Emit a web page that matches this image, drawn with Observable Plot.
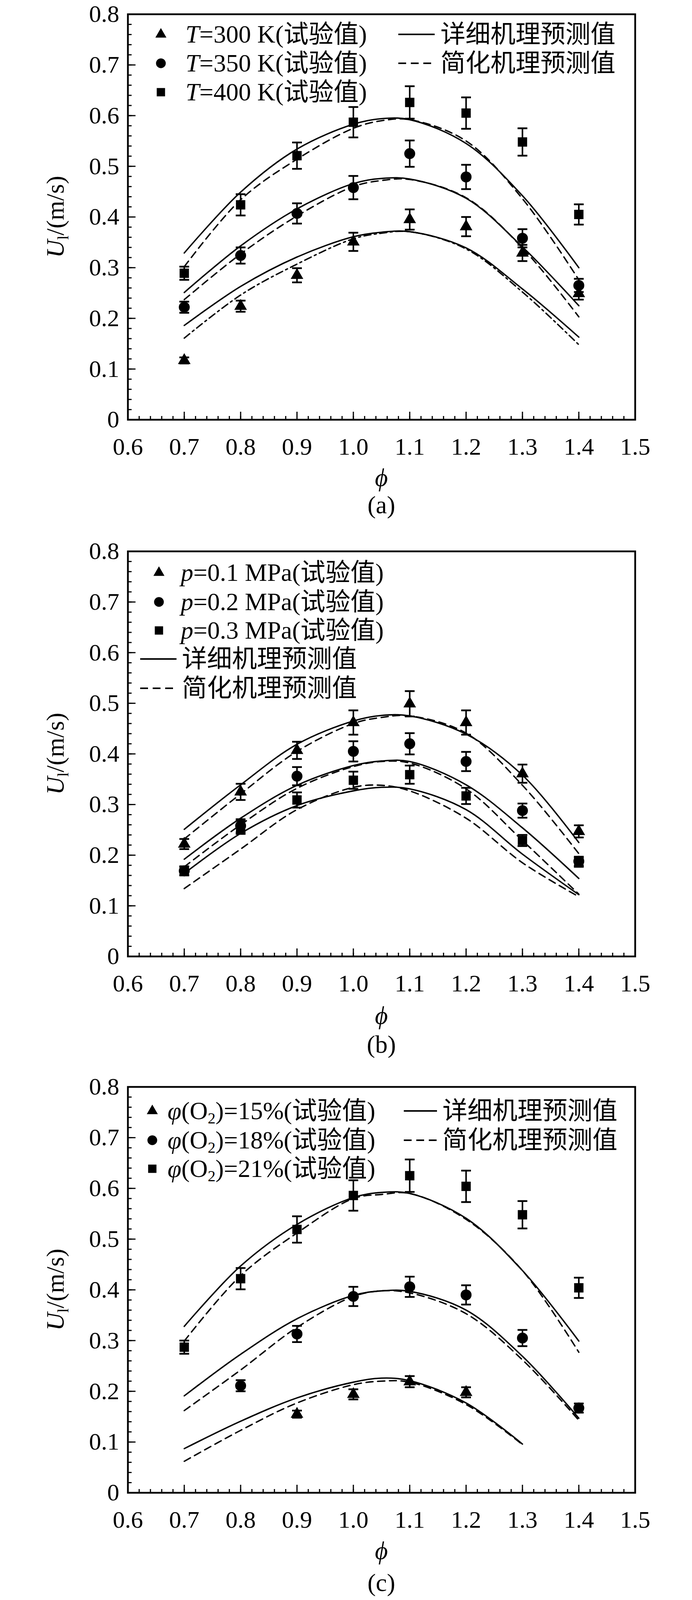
<!DOCTYPE html>
<html><head><meta charset="utf-8">
<script src="https://cdn.jsdelivr.net/npm/d3@7"></script>
<script src="https://cdn.jsdelivr.net/npm/@observablehq/plot@0.6"></script>
<style>
body{margin:0;background:#fff;}
#page{position:relative;width:1772px;height:6892px;background:#fff;overflow:hidden;font-family:'Liberation Serif','Times New Roman','Noto Sans CJK SC',serif;color:#000;}
#page svg{position:absolute;left:0;overflow:visible;}
.lg{position:absolute;white-space:nowrap;font-size:64px;line-height:1;transform:translateY(-50%);}
.lg sub{font-size:0.62em;vertical-align:-0.28em;line-height:0;}
.cap{position:absolute;font-size:64px;line-height:1;transform:translate(-50%,-50%);white-space:nowrap;}
</style></head><body><div id="page"></div>
<script>
// ---------- axis ticks & text ----------
const xTicks = [0.6,0.7,0.8,0.9,1.0,1.1,1.2,1.3,1.4,1.5];
const xTickLabels = ["0.6","0.7","0.8","0.9","1.0","1.1","1.2","1.3","1.4","1.5"];
const yTicks = [0,0.1,0.2,0.3,0.4,0.5,0.6,0.7,0.8];
const yTickLabels = ["0","0.1","0.2","0.3","0.4","0.5","0.6","0.7","0.8"];
const xLabel = "ϕ";
const yLabelMain = "U", yLabelSub = "l", yLabelRest = "/(m/s)";
const captions = ["(a)","(b)","(c)","(d)","(e)"];
const detLabel = "详细机理预测值";
const redLabel = "简化机理预测值";

// ---------- phi grids ----------
const phiExp  = [0.7,0.8,0.9,1.0,1.1,1.2,1.3,1.4];
const phiExp7 = [0.8,0.9,1.0,1.1,1.2,1.3,1.4];
const phiExp4 = [0.9,1.0,1.1,1.2];
const phiExp3 = [1.0,1.1,1.2];
const phiCurve   = [0.7,0.8,0.9,1.0,1.05,1.1,1.2,1.3,1.4];
const phiCurve13 = [0.7,0.8,0.9,1.0,1.05,1.1,1.2,1.3];
const phiCurve0813 = [0.8,0.9,1.0,1.05,1.1,1.2,1.3];
const phiCurve129 = [0.7,0.8,0.9,1.0,1.05,1.1,1.2,1.29];

// ---------- panel (a): temperature ----------
const aLegend = ["<i>T</i>=300 K(试验值)","<i>T</i>=350 K(试验值)","<i>T</i>=400 K(试验值)"];
const a300Exp = [0.117,0.224,0.285,0.351,0.395,0.381,0.329,0.249];
const a300Err = [0.006,0.011,0.014,0.018,0.020,0.019,0.016,0.012];
const a350Exp = [0.222,0.324,0.407,0.458,0.525,0.479,0.358,0.265];
const a350Err = [0.011,0.016,0.020,0.023,0.026,0.024,0.018,0.013];
const a400Exp = [0.289,0.424,0.521,0.587,0.626,0.605,0.548,0.405];
const a400Err = [0.013,0.021,0.026,0.030,0.032,0.031,0.027,0.020];
const a300Det = [0.186,0.263,0.321,0.361,0.370,0.371,0.339,0.258,0.163];
const a300Red = [0.161,0.246,0.307,0.357,0.368,0.371,0.337,0.252,0.148];
const a350Det = [0.251,0.343,0.416,0.466,0.476,0.475,0.437,0.341,0.225];
const a350Red = [0.237,0.327,0.402,0.460,0.472,0.474,0.438,0.339,0.203];
const a400Det = [0.329,0.449,0.534,0.583,0.594,0.592,0.545,0.442,0.300];
const a400Red = [0.302,0.434,0.514,0.575,0.590,0.592,0.550,0.436,0.276];

// ---------- panel (b): pressure ----------
const bLegend = ["<i>p</i>=0.1 MPa(试验值)","<i>p</i>=0.2 MPa(试验值)","<i>p</i>=0.3 MPa(试验值)"];
const b01Exp = [0.222,0.325,0.407,0.462,0.499,0.462,0.361,0.247];
const b01Err = [0.010,0.016,0.017,0.024,0.025,0.024,0.018,0.012];
const b02Exp = [0.169,0.258,0.356,0.405,0.420,0.385,0.288,0.188];
const b02Err = [0.009,0.013,0.018,0.020,0.021,0.019,0.014,0.009];
const b03Exp = [0.169,0.255,0.309,0.348,0.359,0.317,0.229,0.186];
const b03Err = [0.008,0.013,0.015,0.017,0.018,0.016,0.011,0.009];
const b01Det = [0.251,0.339,0.419,0.465,0.476,0.475,0.439,0.358,0.225];
const b01Red = [0.232,0.321,0.405,0.460,0.472,0.475,0.441,0.338,0.203];
const b02Det = [0.192,0.273,0.338,0.377,0.386,0.385,0.339,0.254,0.154];
const b02Red = [0.177,0.260,0.332,0.375,0.385,0.382,0.331,0.229,0.123];
const b03Det = [0.164,0.243,0.298,0.327,0.334,0.331,0.290,0.202,0.122];
const b03Red = [0.134,0.212,0.290,0.334,0.338,0.327,0.273,0.185,0.118];

// ---------- panel (c): O2 ----------
const cLegend = ["<i>φ</i>(O<sub>2</sub>)=15%(试验值)","<i>φ</i>(O<sub>2</sub>)=18%(试验值)","<i>φ</i>(O<sub>2</sub>)=21%(试验值)"];
const c15Exp = [0.155,0.194,0.219,0.198];
const c15Err = [0.007,0.010,0.011,0.010];
const c18Exp = [0.211,0.313,0.387,0.406,0.390,0.305,0.167];
const c18Err = [0.011,0.016,0.019,0.020,0.019,0.016,0.009];
const c21Exp = [0.287,0.422,0.519,0.586,0.625,0.604,0.548,0.404];
const c21Err = [0.013,0.021,0.026,0.030,0.032,0.031,0.027,0.020];
const c15Det = [0.087,0.141,0.187,0.218,0.226,0.221,0.177,0.096];
const c15Red = [0.062,0.123,0.177,0.213,0.220,0.218,0.174,0.095];
const c18Det = [0.191,0.273,0.343,0.389,0.398,0.397,0.360,0.269,0.147];
const c18Red = [0.162,0.242,0.326,0.387,0.398,0.394,0.353,0.262,0.143];
const c21Det = [0.328,0.447,0.529,0.582,0.592,0.590,0.541,0.438,0.299];
const c21Red = [0.299,0.428,0.512,0.580,0.588,0.590,0.539,0.438,0.277];

// ---------- panel (d): CO2 ----------
const dLegend = ["<i>φ</i>(CO<sub>2</sub>)=0%(试验值)","<i>φ</i>(CO<sub>2</sub>)=10%(试验值)","<i>φ</i>(CO<sub>2</sub>)=20%(试验值)"];
const d0Exp  = [0.288,0.425,0.522,0.586,0.626,0.605,0.548,0.405];
const d0Err  = [0.013,0.021,0.026,0.030,0.032,0.031,0.027,0.020];
const d10Exp = [0.189,0.242,0.308,0.323,0.298,0.260,0.147];
const d10Err = [0.012,0.016,0.021,0.022,0.020,0.018,0.010];
const d20Exp = [0.103,0.154,0.166,0.127];
const d20Err = [0.006,0.015,0.017,0.012];
const d0Det  = [0.325,0.449,0.530,0.583,0.593,0.590,0.544,0.445,0.298];
const d0Red  = [0.300,0.432,0.511,0.578,0.589,0.591,0.544,0.442,0.276];
const d10Det = [0.157,0.222,0.274,0.305,0.312,0.310,0.279,0.215,0.130];
const d10Red = [0.134,0.205,0.262,0.301,0.311,0.310,0.276,0.212,0.123];
const d20Det = [0.066,0.106,0.134,0.149,0.153,0.149,0.129,0.083];
const d20Red = [0.089,0.123,0.147,0.152,0.150,0.130,0.079];

// ---------- panel (e): H2O ----------
const eLegend = ["<i>φ</i>(H<sub>2</sub>O)=0%(试验值)","<i>φ</i>(H<sub>2</sub>O)10%(试验值)","<i>φ</i>(H<sub>2</sub>O)20%(试验值)"];
const e0Exp  = [0.288,0.424,0.521,0.586,0.627,0.605,0.508,0.383];
const e0Err  = [0.013,0.021,0.026,0.030,0.032,0.031,0.025,0.019];
const e10Exp = [0.167,0.271,0.356,0.422,0.453,0.426,0.344,0.245];
const e10Err = [0.008,0.014,0.018,0.021,0.023,0.021,0.017,0.012];
const e20Exp = [0.234,0.290,0.254];
const e20Err = [0.012,0.021,0.018];
const e0Det  = [0.325,0.451,0.532,0.583,0.592,0.590,0.542,0.444,0.300];
const e0Red  = [0.298,0.434,0.512,0.578,0.588,0.591,0.542,0.441,0.278];
const e10Det = [0.205,0.288,0.358,0.400,0.412,0.410,0.373,0.281,0.169];
const e10Red = [0.180,0.270,0.342,0.392,0.403,0.403,0.359,0.256,0.157];
const e20Det = [0.107,0.166,0.217,0.247,0.255,0.253,0.214,0.134];
const e20Red = [0.075,0.139,0.191,0.232,0.242,0.239,0.193,0.117];

// ---------- helpers ----------
const DASH = "18,12", DASHDOT = "18,9,5,9";
const SYM = ["triangle","circle","square"];
const SYMR = {triangle: 12, circle: 14, square: 13.5};
const d3Sym = {triangle: d3.symbolTriangle, circle: d3.symbolCircle, square: d3.symbolSquare};
function pts(phis, vals, errs) { return phis.map((p, i) => ({phi: p, u: vals[i], lo: errs ? vals[i] - errs[i] : null, hi: errs ? vals[i] + errs[i] : null})); }
function ser(sym, ep, ev, ee, dp, dv, rp, rv, rdash) {
  return {sym, exp: pts(ep, ev, ee), det: pts(dp, dv), red: pts(rp, rv), rdash: rdash || DASH};
}
const capSymbol = {draw(ctx) { const w = 12.5; ctx.moveTo(-w, 0); ctx.lineTo(w, 0); }};

const panels = [
  {off: 0, y08: 36, y0: 1074, phiY: 1222, capY: 1293, legend: aLegend,
   mk: {cx: 412, tx: 475, cys: [88,162,236]}, ln: {x1: 1020, x2: 1113, tx: 1128, cys: [88,162]},
   series: [ser("triangle", phiExp, a300Exp, a300Err, phiCurve, a300Det, phiCurve, a300Red, DASHDOT),
            ser("circle", phiExp, a350Exp, a350Err, phiCurve, a350Det, phiCurve, a350Red),
            ser("square", phiExp, a400Exp, a400Err, phiCurve, a400Det, phiCurve, a400Red)]},
  {off: 1378, y08: 1411, y0: 2448, phiY: 2599, capY: 2674, legend: bLegend,
   mk: {cx: 407, tx: 463, cys: [88,163,236]}, ln: {x1: 359, x2: 452, tx: 466, cys: [309,384]},
   series: [ser("triangle", phiExp, b01Exp, b01Err, phiCurve, b01Det, phiCurve, b01Red),
            ser("square", phiExp, b03Exp, b03Err, phiCurve, b03Det, phiCurve, b03Red),
            ser("circle", phiExp, b02Exp, b02Err, phiCurve, b02Det, phiCurve, b02Red)],
   legendOrder: ["triangle","circle","square"]},
  {off: 2756, y08: 2782, y0: 3821, phiY: 3969, capY: 4052, legend: cLegend,
   mk: {cx: 390, tx: 429, cys: [88,163,236]}, ln: {x1: 1034, x2: 1119, tx: 1133, cys: [88,163]},
   series: [ser("triangle", phiExp4, c15Exp, c15Err, phiCurve13, c15Det, phiCurve13, c15Red),
            ser("circle", phiExp7, c18Exp, c18Err, phiCurve, c18Det, phiCurve, c18Red),
            ser("square", phiExp, c21Exp, c21Err, phiCurve, c21Det, phiCurve, c21Red)]},
  {off: 4134, y08: 4171, y0: 5208, phiY: 5360, capY: 5478, legend: dLegend,
   mk: {cx: 362, tx: 390, cys: [83,160,248]}, ln: {x1: 1000, x2: 1056, tx: 1082, cys: [83,160]},
   series: [ser("triangle", phiExp, d0Exp, d0Err, phiCurve, d0Det, phiCurve, d0Red),
            ser("circle", phiExp7, d10Exp, d10Err, phiCurve, d10Det, phiCurve, d10Red),
            ser("square", phiExp4, d20Exp, d20Err, phiCurve13, d20Det, phiCurve0813, d20Red)]},
  {off: 5512, y08: 5574, y0: 6610, phiY: 6762, capY: 6859, legend: eLegend,
   mk: {cx: 365, tx: 390, cys: [110,187,273]}, ln: {x1: 949, x2: 1057, tx: 1073, cys: [110,187]},
   series: [ser("triangle", phiExp, e0Exp, e0Err, phiCurve, e0Det, phiCurve, e0Red),
            ser("circle", phiExp, e10Exp, e10Err, phiCurve, e10Det, phiCurve, e10Red),
            ser("square", phiExp3, e20Exp, e20Err, phiCurve13, e20Det, phiCurve129, e20Red)]}
];

const xMinor = d3.range(0, 46).map(i => +(0.6 + i * 0.02).toFixed(2));
const yMinor = d3.range(0, 41).map(i => +(i * 0.02).toFixed(2));
const page = document.getElementById("page");
const L = 327, R = 1626, W = 1772;
const FONT = "'Liberation Serif','Times New Roman','Noto Sans CJK SC',serif";
const TICKFONT = 62;

panels.forEach((P, pi) => {
  const plotW = R - L, plotH = P.y0 - P.y08;
  const top = P.y08 - 40;
  const H = (P.phiY + 45) - top;
  const marks = [
    Plot.tickX(xMinor, {x: d => d, insetTop: plotH - 9, strokeWidth: 3}),
    Plot.tickX(xTicks, {x: d => d, insetTop: plotH - 20, strokeWidth: 3}),
    Plot.tickY(yMinor, {y: d => d, insetRight: plotW - 10, strokeWidth: 3}),
    Plot.tickY(yTicks, {y: d => d, insetRight: plotW - 20, strokeWidth: 3}),
    Plot.axisX({ticks: xTicks, tickFormat: d => xTickLabels[xTicks.indexOf(d)], tickSize: 0, tickPadding: 45, fontSize: TICKFONT, fontFamily: FONT, label: null}),
    Plot.axisY({ticks: yTicks, tickFormat: d => yTickLabels[yTicks.indexOf(d)], tickSize: 0, tickPadding: 22, fontSize: TICKFONT, fontFamily: FONT, label: null})
  ];
  P.series.forEach(s => {
    marks.push(Plot.line(s.det, {x: "phi", y: "u", curve: "catmull-rom", stroke: "black", strokeWidth: 3.6}));
    marks.push(Plot.line(s.red, {x: "phi", y: "u", curve: "catmull-rom", stroke: "black", strokeWidth: 3.6, strokeDasharray: s.rdash}));
  });
  P.series.forEach(s => {
    marks.push(Plot.ruleX(s.exp, {x: "phi", y1: "lo", y2: "hi", stroke: "black", strokeWidth: 4}));
    marks.push(Plot.dot(s.exp, {x: "phi", y: "hi", symbol: capSymbol, r: 5, stroke: "black", fill: "none", strokeWidth: 4.5}));
    marks.push(Plot.dot(s.exp, {x: "phi", y: "lo", symbol: capSymbol, r: 5, stroke: "black", fill: "none", strokeWidth: 4.5}));
  });
  P.series.forEach(s => {
    marks.push(Plot.dot(s.exp, {x: "phi", y: "u", symbol: s.sym, r: SYMR[s.sym], fill: "black", stroke: "none"}));
  });
  marks.push(Plot.frame({stroke: "black", strokeWidth: 4.5}));

  const svg = Plot.plot({
    width: W, height: H,
    marginLeft: L, marginRight: W - R, marginTop: 40, marginBottom: H - 40 - plotH,
    x: {domain: [0.6, 1.5]}, y: {domain: [0, 0.8]},
    style: {fontFamily: FONT, fontSize: TICKFONT + "px", background: "white", color: "black", overflow: "visible"},
    marks
  });
  svg.style.top = top + "px";
  page.appendChild(svg);

  const sel = d3.select(svg);
  const yt = sel.append("text")
    .attr("transform", `translate(141,${(P.y08 + P.y0) / 2 - top}) rotate(-90)`)
    .attr("text-anchor", "middle").attr("dy", "0.35em")
    .attr("font-size", 64).attr("font-family", FONT).attr("fill", "black");
  yt.append("tspan").attr("font-style", "italic").text(yLabelMain);
  yt.append("tspan").attr("font-size", 40).attr("dy", "0.3em").text(yLabelSub);
  yt.append("tspan").attr("dy", "-0.19em").text(yLabelRest);
  sel.append("text")
    .attr("x", (L + R) / 2).attr("y", P.phiY - top).attr("dy", "0.35em")
    .attr("text-anchor", "middle").attr("font-size", 64).attr("font-style", "italic")
    .attr("font-family", FONT).attr("fill", "black").text(xLabel);

  const order = P.legendOrder || SYM;
  order.forEach((sym, i) => {
    const cy = P.off + P.mk.cys[i];
    const sz = 40;
    const s = d3.create("svg").attr("width", sz).attr("height", sz)
      .style("left", (P.mk.cx - sz / 2) + "px").style("top", (cy - sz / 2) + "px");
    s.append("path").attr("transform", `translate(${sz/2},${sz/2})`)
      .attr("d", d3.symbol(d3Sym[sym], Math.PI * Math.pow(SYMR[sym] - 1.5, 2))()).attr("fill", "black");
    page.appendChild(s.node());
    const t = document.createElement("div");
    t.className = "lg"; t.style.left = P.mk.tx + "px"; t.style.top = cy + "px";
    t.innerHTML = P.legend[i];
    page.appendChild(t);
  });
  [detLabel, redLabel].forEach((lab, i) => {
    const cy = P.off + P.ln.cys[i];
    const s = d3.create("svg").attr("width", P.ln.x2 - P.ln.x1).attr("height", 10)
      .style("left", P.ln.x1 + "px").style("top", (cy - 5) + "px");
    s.append("line").attr("x1", 0).attr("x2", P.ln.x2 - P.ln.x1).attr("y1", 5).attr("y2", 5)
      .attr("stroke", "black").attr("stroke-width", 4)
      .attr("stroke-dasharray", i === 0 ? null : "20,12");
    page.appendChild(s.node());
    const t = document.createElement("div");
    t.className = "lg"; t.style.left = P.ln.tx + "px"; t.style.top = cy + "px";
    t.textContent = lab;
    page.appendChild(t);
  });
  const c = document.createElement("div");
  c.className = "cap"; c.style.left = ((L + R) / 2) + "px"; c.style.top = P.capY + "px";
  c.textContent = captions[pi];
  page.appendChild(c);
});
</script></body></html>
